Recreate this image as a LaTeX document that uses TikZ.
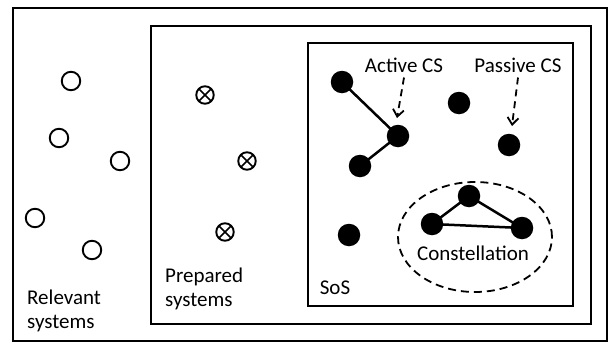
\documentclass[tikz,border=0pt]{standalone}
\usepackage{fontspec}
\setmainfont{Carlito}
\usetikzlibrary{arrows.meta,shapes.geometric}
\begin{document}
\begin{tikzpicture}[x=1pt,y=-1pt,
  frame/.style={draw=black,line width=2pt},
  relsys/.style={circle,draw=black,line width=1.9pt,minimum size=18.5pt,inner sep=0pt},
  prepsys/.style={circle,draw=black,line width=1.9pt,minimum size=17.5pt,inner sep=0pt,path picture={
     \draw[line width=1.7pt] (path picture bounding box.south west)--(path picture bounding box.north east)
       (path picture bounding box.north west)--(path picture bounding box.south east);}},
  cs/.style={circle,fill=black,minimum size=22.5pt,inner sep=0pt},
  link/.style={line width=2.5pt},
  lbl/.style={font=\fontsize{21}{24}\selectfont,inner sep=0pt},
  ptr/.style={line width=1.8pt,dash pattern=on 7pt off 5pt,-{Straight Barb[length=7pt,width=11pt,line width=1.8pt]}}]
\useasboundingbox (0,0) rectangle (611,343);
\fill[white] (0,0) rectangle (611,343);
\draw[frame] (13,8) rectangle (607,341);
\draw[frame] (151,26) rectangle (591,324);
\draw[frame] (308,43) rectangle (573,306);
% relevant systems
\node[relsys] (r1) at (71,81) {};
\node[relsys] (r2) at (59,138) {};
\node[relsys] (r3) at (120,161) {};
\node[relsys] (r4) at (35,218) {};
\node[relsys] (r5) at (92,250) {};
% prepared systems
\node[prepsys] (p1) at (205,95) {};
\node[prepsys] (p2) at (247,161) {};
\node[prepsys] (p3) at (225,232) {};
% SoS constituent systems
\node[cs] (a1) at (342,82) {};
\node[cs] (a2) at (398,136) {};
\node[cs] (a3) at (360,166) {};
\node[cs] (s1) at (459,103) {};
\node[cs] (s2) at (509,145) {};
\node[cs] (s3) at (349,235) {};
\node[cs] (c1) at (469,196) {};
\node[cs] (c2) at (432,224) {};
\node[cs] (c3) at (522,228) {};
\draw[link] (a1.center) -- (a2.center) -- (a3.center);
\draw[link] (c2.center) -- (c1.center) -- (c3.center) -- (c2.center);
\node[draw=black,dash pattern=on 8pt off 5pt,line width=1.8pt,ellipse,minimum width=154pt,minimum height=110pt,inner sep=0pt] (ell) at (475,237) {};
% labels
\node[lbl] (lact) at (404,65) {Active CS};
\node[lbl] (lpas) at (518,65) {Passive CS};
\coordinate (tact) at (397,118);
\coordinate (tpas) at (512,126);
\draw[ptr] ([yshift=-5pt]lact.south) -- (tact);
\draw[ptr] ([yshift=-5pt]lpas.south) -- (tpas);
\node[lbl] (lcon) at (473,253) {Constellation};
\node[lbl] (lsos) at (335,288) {SoS};
\node[lbl,align=left,anchor=north west] (lprep) at (165,268) {Prepared\\systems};
\node[lbl,align=left,anchor=north west] (lrel) at (27,290) {Relevant\\systems};
\end{tikzpicture}
\end{document}
